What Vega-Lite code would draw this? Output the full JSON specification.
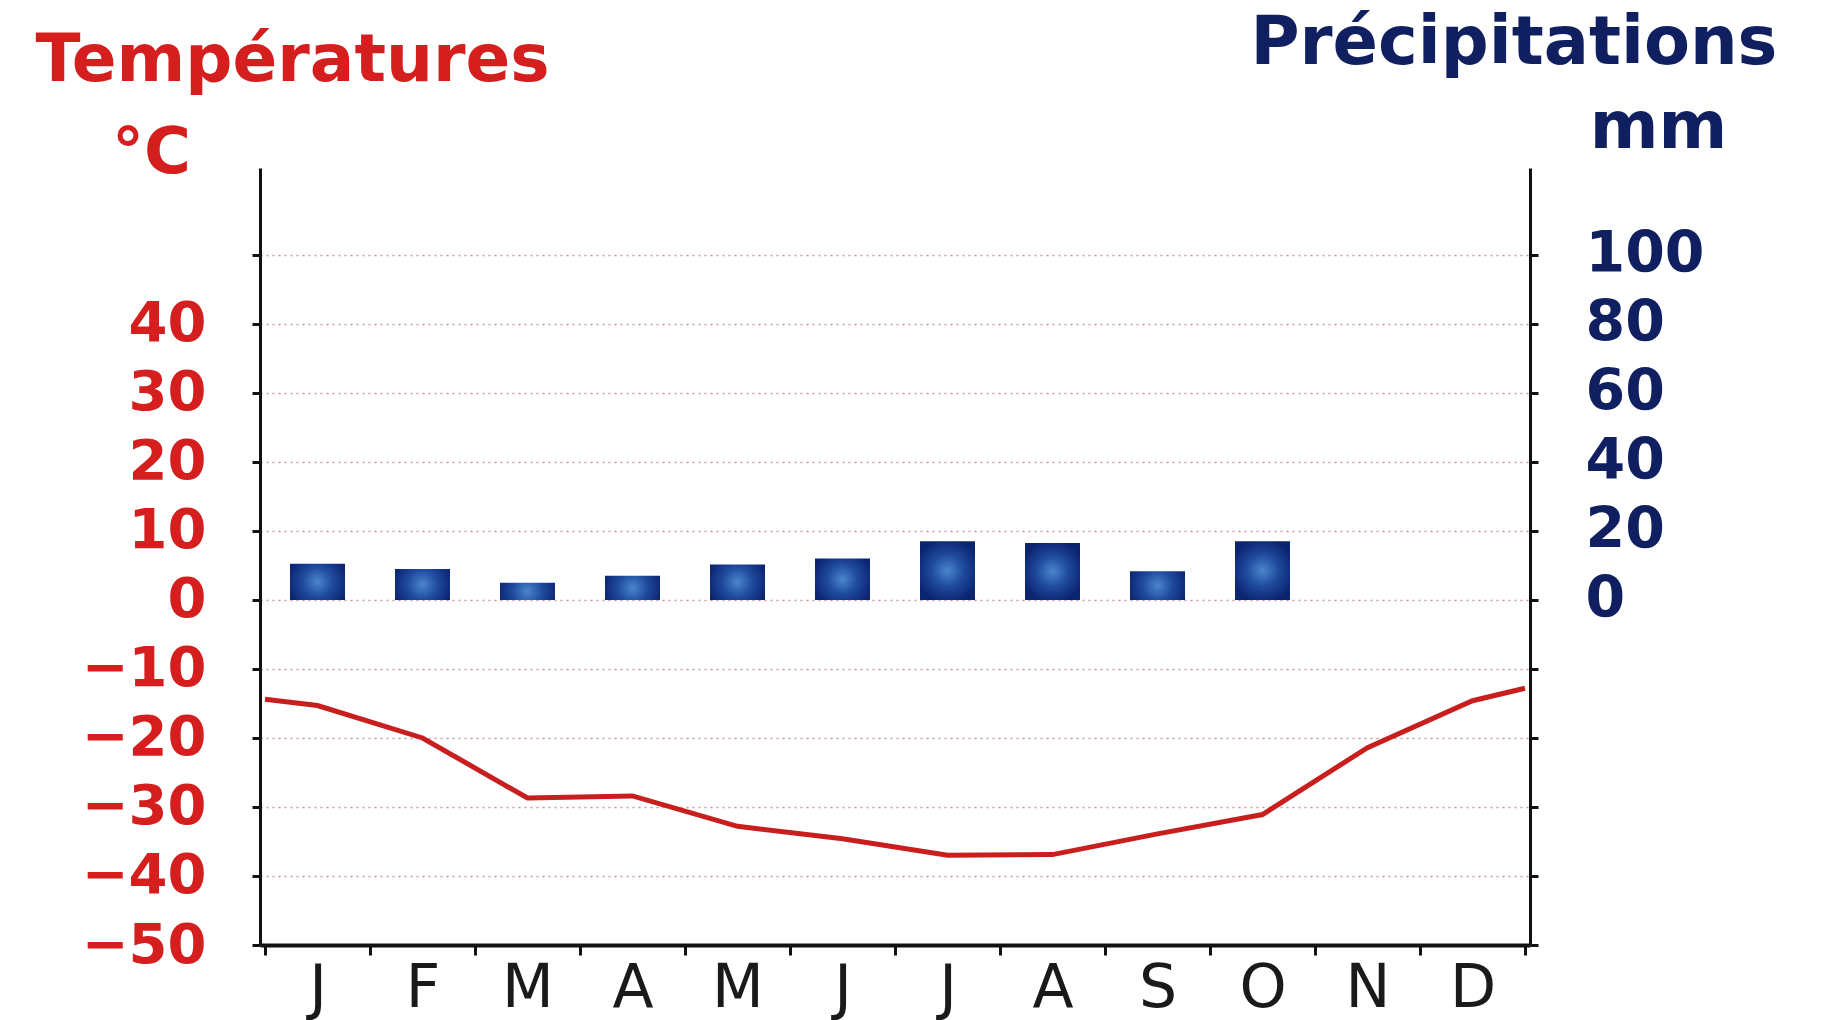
{
  "$schema": "https://vega.github.io/schema/vega-lite/v6.json",
  "width": 1270,
  "height": 777,
  "autosize": {"type": "none"},
  "padding": {"left": 260, "top": 168, "right": 292, "bottom": 75},
  "background": "white",
  "config": {"view": {"stroke": null}, "font": "DejaVu Sans"},
  "datasets": {
    "precip": [
      {"mois": 0.5, "mm": 10.5},
      {"mois": 1.5, "mm": 9},
      {"mois": 2.5, "mm": 5},
      {"mois": 3.5, "mm": 7},
      {"mois": 4.5, "mm": 10.3},
      {"mois": 5.5, "mm": 12},
      {"mois": 6.5, "mm": 17},
      {"mois": 7.5, "mm": 16.5},
      {"mois": 8.5, "mm": 8.3},
      {"mois": 9.5, "mm": 17},
      {"mois": 10.5, "mm": 0},
      {"mois": 11.5, "mm": 0}
    ],
    "temp": [
      {"mois": 0, "c": -14.4},
      {"mois": 0.5, "c": -15.3},
      {"mois": 1.5, "c": -20},
      {"mois": 2.5, "c": -28.7},
      {"mois": 3.5, "c": -28.4},
      {"mois": 4.5, "c": -32.8},
      {"mois": 5.5, "c": -34.6},
      {"mois": 6.5, "c": -37},
      {"mois": 7.5, "c": -36.9},
      {"mois": 8.5, "c": -33.9},
      {"mois": 9.5, "c": -31.1},
      {"mois": 10.5, "c": -21.4},
      {"mois": 11.5, "c": -14.6},
      {"mois": 12, "c": -12.8}
    ]
  },
  "layer": [
    {
      "data": {"name": "precip"},
      "mark": {
        "type": "bar",
        "width": 55,
        "fill": {
          "gradient": "radial",
          "x1": 0.5, "y1": 0.5, "r1": 0,
          "x2": 0.5, "y2": 0.5, "r2": 0.55,
          "stops": [
            {"offset": 0, "color": "#4a86cc"},
            {"offset": 0.5, "color": "#1f4a9e"},
            {"offset": 1, "color": "#0b2470"}
          ]
        }
      },
      "encoding": {
        "x": {
          "field": "mois",
          "type": "quantitative",
          "scale": {"domain": [0, 12], "nice": false, "zero": false},
          "axis": {
            "orient": "bottom",
            "values": [0.5, 1.5, 2.5, 3.5, 4.5, 5.5, 6.5, 7.5, 8.5, 9.5, 10.5, 11.5],
            "labelExpr": "['J','F','M','A','M','J','J','A','S','O','N','D'][floor(datum.value)]",
            "ticks": false,
            "domain": false,
            "grid": false,
            "labelFlush": false,
            "labelOverlap": false,
            "labelPadding": 61,
            "labelBaseline": "alphabetic",
            "labelFontSize": 60,
            "labelColor": "#1a1a1a",
            "labelFont": "DejaVu Sans",
            "title": "Précipitations",
            "titleFont": "DejaVu Sans",
            "titleFontSize": 67,
            "titleFontWeight": "bold",
            "titleColor": "#0f1f5f",
            "titleAlign": "right",
            "titleBaseline": "alphabetic",
            "titleX": 1517,
            "titleY": -882
          }
        },
        "y": {
          "field": "mm",
          "type": "quantitative",
          "scale": {"domain": [-100, 125.2], "nice": false},
          "axis": {
            "orient": "right",
            "values": [-100, -80, -60, -40, -20, 0, 20, 40, 60, 80, 100],
            "labelExpr": "datum.value >= 0 ? datum.label : ''",
            "grid": false,
            "domainColor": "#111111",
            "domainWidth": 3,
            "tickColor": "#111111",
            "tickWidth": 3,
            "tickSize": 8,
            "labelPadding": 47,
            "labelFont": "DejaVu Sans",
            "labelFontSize": 57,
            "labelFontWeight": "bold",
            "labelColor": "#0f1f5f",
            "title": "mm",
            "titleFont": "DejaVu Sans",
            "titleFontSize": 66,
            "titleFontWeight": "bold",
            "titleColor": "#0f1f5f",
            "titleAngle": 0,
            "titleAlign": "center",
            "titleBaseline": "alphabetic",
            "titleX": 128,
            "titleY": -21
          }
        }
      }
    },
    {
      "data": {"name": "temp"},
      "mark": {"type": "line", "color": "#c81e1e", "strokeWidth": 5},
      "encoding": {
        "x": {
          "field": "mois",
          "type": "quantitative",
          "axis": {
            "orient": "bottom",
            "values": [0, 1, 2, 3, 4, 5, 6, 7, 8, 9, 10, 11, 12],
            "labels": false,
            "grid": false,
            "domainColor": "#111111",
            "domainWidth": 4,
            "tickColor": "#111111",
            "tickWidth": 3,
            "tickSize": 10,
            "title": "Températures",
            "titleFont": "DejaVu Sans",
            "titleFontSize": 66,
            "titleFontWeight": "bold",
            "titleColor": "#d51f1f",
            "titleAlign": "left",
            "titleBaseline": "alphabetic",
            "titleX": -225,
            "titleY": -865
          }
        },
        "y": {
          "field": "c",
          "type": "quantitative",
          "scale": {"domain": [-50, 62.6], "nice": false, "zero": false},
          "axis": {
            "orient": "left",
            "values": [-50, -40, -30, -20, -10, 0, 10, 20, 30, 40, 50],
            "labelExpr": "datum.value == 50 ? '' : datum.label",
            "grid": true,
            "gridColor": "#c49a9a",
            "gridDash": [2, 4],
            "gridWidth": 1.5,
            "domainColor": "#111111",
            "domainWidth": 3,
            "tickColor": "#111111",
            "tickWidth": 3,
            "tickSize": 8,
            "labelPadding": 46,
            "labelFont": "DejaVu Sans",
            "labelFontSize": 56,
            "labelFontWeight": "bold",
            "labelColor": "#d51f1f",
            "title": "°C",
            "titleFont": "DejaVu Sans",
            "titleFontSize": 64,
            "titleFontWeight": "bold",
            "titleColor": "#d51f1f",
            "titleAngle": 0,
            "titleAlign": "center",
            "titleBaseline": "alphabetic",
            "titleX": -109,
            "titleY": 4
          }
        }
      }
    }
  ],
  "resolve": {
    "scale": {"y": "independent"},
    "axis": {"x": "independent", "y": "independent"}
  }
}
